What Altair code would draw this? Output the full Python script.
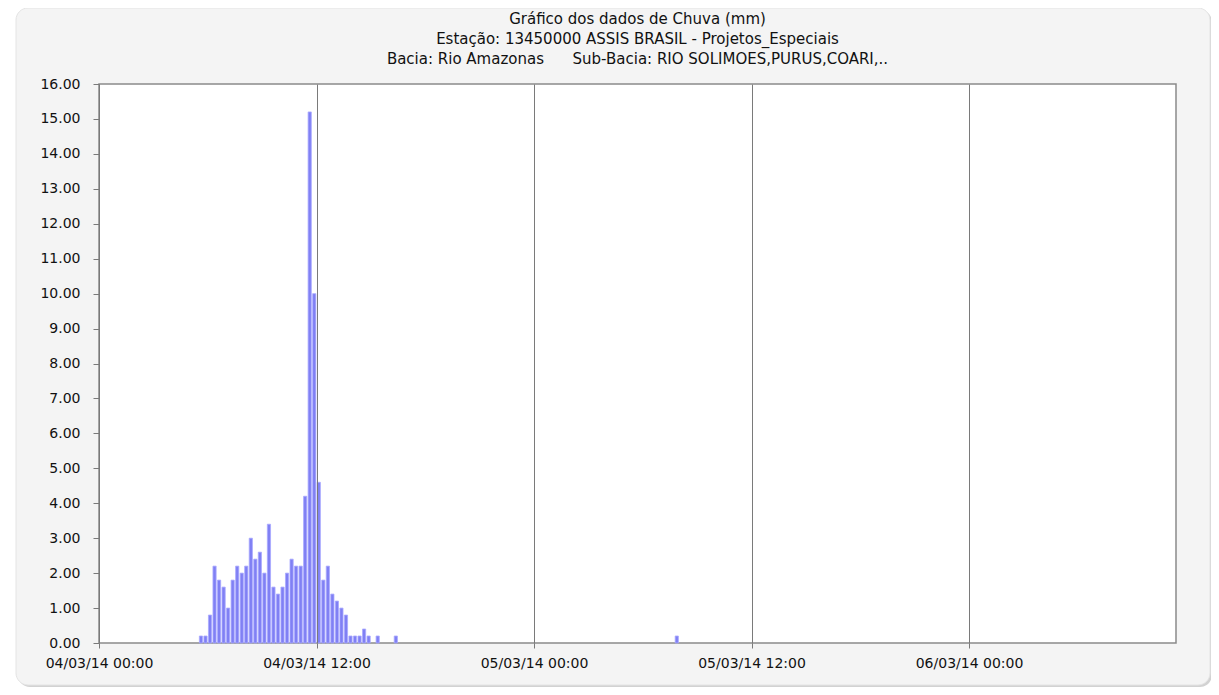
import altair as alt
import pandas as pd

# ---- data (15-min rain totals, mm; timestamps = end of interval)
bar_end_times = [
    "2014-03-04T05:45:00", "2014-03-04T06:00:00", "2014-03-04T06:15:00", "2014-03-04T06:30:00",
    "2014-03-04T06:45:00", "2014-03-04T07:00:00", "2014-03-04T07:15:00", "2014-03-04T07:30:00",
    "2014-03-04T07:45:00", "2014-03-04T08:00:00", "2014-03-04T08:15:00", "2014-03-04T08:30:00",
    "2014-03-04T08:45:00", "2014-03-04T09:00:00", "2014-03-04T09:15:00", "2014-03-04T09:30:00",
    "2014-03-04T09:45:00", "2014-03-04T10:00:00", "2014-03-04T10:15:00", "2014-03-04T10:30:00",
    "2014-03-04T10:45:00", "2014-03-04T11:00:00", "2014-03-04T11:15:00", "2014-03-04T11:30:00",
    "2014-03-04T11:45:00", "2014-03-04T12:00:00", "2014-03-04T12:15:00", "2014-03-04T12:30:00",
    "2014-03-04T12:45:00", "2014-03-04T13:00:00", "2014-03-04T13:15:00", "2014-03-04T13:30:00",
    "2014-03-04T13:45:00", "2014-03-04T14:00:00", "2014-03-04T14:15:00", "2014-03-04T14:30:00",
    "2014-03-04T14:45:00", "2014-03-04T15:00:00", "2014-03-04T15:30:00", "2014-03-04T16:30:00",
    "2014-03-05T08:00:00",
]
rain_mm = [
    0.2, 0.2, 0.8, 2.2,
    1.8, 1.6, 1.0, 1.8,
    2.2, 2.0, 2.2, 3.0,
    2.4, 2.6, 2.0, 3.4,
    1.6, 1.4, 1.6, 2.0,
    2.4, 2.2, 2.2, 4.2,
    15.2, 10.0, 4.6, 1.8,
    2.2, 1.4, 1.2, 1.0,
    0.8, 0.2, 0.2, 0.2,
    0.4, 0.2, 0.2, 0.2,
    0.2,
]
y_tick_values = [0, 1, 2, 3, 4, 5, 6, 7, 8, 9, 10, 11, 12, 13, 14, 15, 16]
x_tick_days = [(4, 0), (4, 12), (5, 0), (5, 12), (6, 0)]
title_lines = [
    "Gráfico dos dados de Chuva (mm)",
    "Estação: 13450000 ASSIS BRASIL - Projetos_Especiais",
    "Bacia: Rio Amazonas\u00a0\u00a0\u00a0\u00a0\u00a0\u00a0Sub-Bacia: RIO SOLIMOES,PURUS,COARI,..",
]

W, H = 1077, 559
FONT = "DejaVu Sans"

df = pd.DataFrame({"fim": pd.to_datetime(bar_end_times), "chuva": rain_mm})
df["centro"] = df["fim"] - pd.Timedelta(minutes=7, seconds=30)

one = pd.DataFrame({"k": [0]})

x_scale = alt.Scale(
    domain=[alt.DateTime(year=2014, month=3, date=4, hours=0),
            alt.DateTime(year=2014, month=3, date=6, hours=11, minutes=25)],
    nice=False, padding=0,
)
x_axis = alt.Axis(
    values=[alt.DateTime(year=2014, month=3, date=d, hours=h) for d, h in x_tick_days],
    format="%d/%m/%y %H:%M", title=None, grid=True, gridColor="#7a7a7a", gridWidth=1,
    tickSize=5, tickColor="#7a7a7a", labelPadding=8, zindex=1, domain=False,
    labelFlush=False, labelOverlap=False,
    labelFont=FONT, labelFontSize=14, labelColor="#111",
)
y_axis = alt.Axis(
    values=y_tick_values, format=".2f", title=None, grid=False,
    tickSize=6, tickColor="#7a7a7a", labelPadding=13, zindex=1, domain=False,
    labelFont=FONT, labelFontSize=14, labelColor="#111",
)

shadow = alt.Chart(one).mark_rect(fill="#d2d2d2", cornerRadius=12).encode(
    x=alt.value(-81), x2=alt.value(W + 36), y=alt.value(-74), y2=alt.value(H + 44))
panel = alt.Chart(one).mark_rect(fill="#f4f4f4", stroke="#e4e4e4", cornerRadius=12).encode(
    x=alt.value(-83), x2=alt.value(W + 34), y=alt.value(-76), y2=alt.value(H + 42))
plot_bg = alt.Chart(one).mark_rect(fill="white", stroke="#8a8a8a", strokeWidth=1.5).encode(
    x=alt.value(0), x2=alt.value(W), y=alt.value(0), y2=alt.value(H))

title_layers = [
    alt.Chart(one).mark_text(font=FONT, fontSize=15, color="#111", baseline="middle",
                             align="center").encode(
        x=alt.value(W / 2), y=alt.value(-65 + 20 * i), text=alt.value(line))
    for i, line in enumerate(title_lines)
]

bars = alt.Chart(df).mark_bar(size=3.2, fill="#8080f4", stroke="#aaaaff", strokeWidth=0.8).encode(
    x=alt.X("centro:T", scale=x_scale, axis=x_axis),
    y=alt.Y("chuva:Q", scale=alt.Scale(domain=[0, 16], nice=False), axis=y_axis),
)

chart = alt.layer(shadow, panel, plot_bg, bars, *title_layers).properties(
    width=W, height=H,
    autosize=alt.AutoSizeParams(type="none"),
    padding={"left": 91, "top": 76, "right": 35, "bottom": 44},
    background="white",
).configure_view(stroke=None)

chart.save("out.html", embed_options={"renderer": "svg", "actions": False})
